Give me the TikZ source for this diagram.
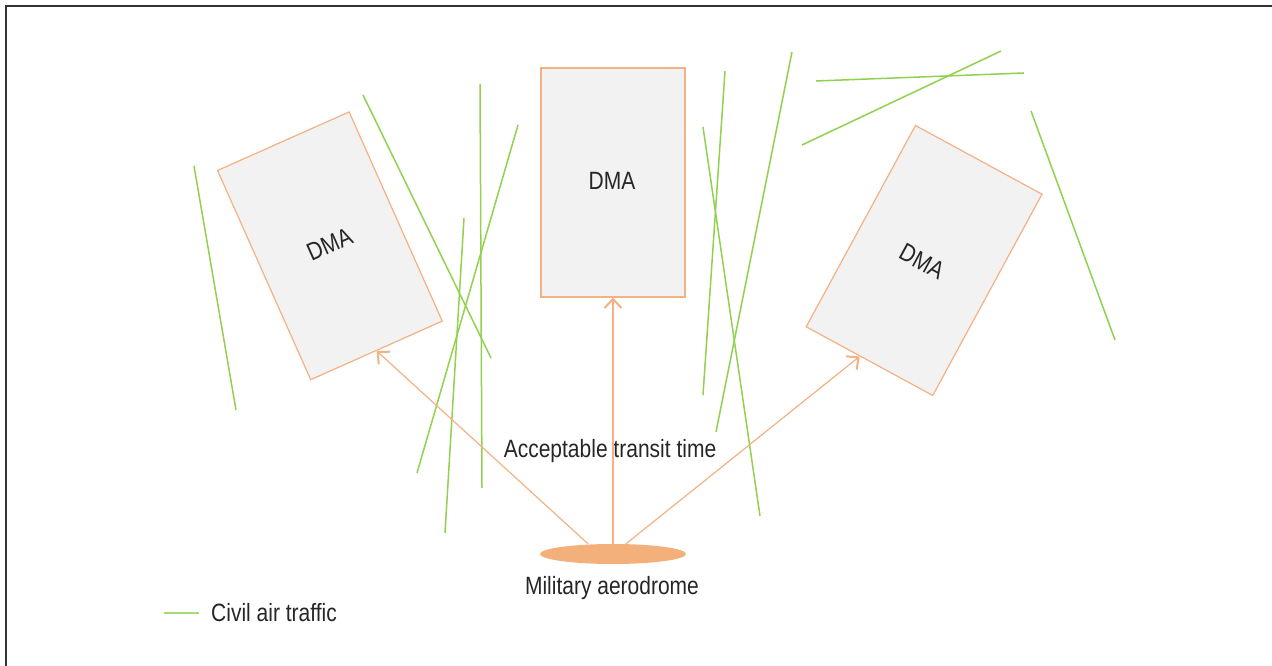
\documentclass[tikz,border=0pt]{standalone}
\usepackage{fontspec}
\setmainfont[FakeStretch=0.84]{Liberation Sans}
\usetikzlibrary{arrows.meta,shapes.geometric,calc}
\definecolor{orng}{HTML}{F4B183}
\definecolor{aerofill}{HTML}{F4B07A}
\definecolor{grn}{HTML}{92D050}
\definecolor{boxfill}{HTML}{F2F2F2}
\definecolor{txt}{HTML}{262626}
\definecolor{frame}{HTML}{333333}
\tikzset{
  x=1pt, y=1pt,
  every node/.style={text=txt, font=\fontsize{25}{30}\selectfont},
  dmabox/.style={draw=orng, line width=1.2pt, fill=boxfill, rectangle, minimum width=144pt, minimum height=229pt, inner sep=0pt},
  traffic/.style={draw=grn, line width=1.5pt},
  transit/.style={draw=orng, line width=1.2pt, -{Straight Barb[length=9pt,width=17pt,line width=2pt]}},
  lbl/.style={inner sep=0pt, anchor=base}
}
\begin{document}
\begin{tikzpicture}
\useasboundingbox (0,0) rectangle (1272,666);
% frame
\draw[frame, line width=1.5pt] (6,-2) -- (6,660) -- (1275,660);

% civil air traffic lines
\draw[traffic] (194,500) -- (236,256);
\draw[traffic] (363,571) -- (491,308);
\draw[traffic] (480,582) -- (482,178);
\draw[traffic] (518,541) -- (417,193);
\draw[traffic] (464,448) -- (445,133);
\draw[traffic] (725,595) -- (703,271);
\draw[traffic] (703,539) -- (760,150);
\draw[traffic] (792,614) -- (716,234);
\draw[traffic] (816,585) -- (1024,593);
\draw[traffic] (802,521) -- (1001,615);
\draw[traffic] (1031,555) -- (1115,326);

% DMAs
\node[dmabox, rotate=24] (dmaL) at (329.9,420.2) {};
\node[rotate=24, inner sep=0pt] (dmaLlbl) at (329.5,422) {DMA};
\node[dmabox] (dmaM) at (613,483.5) {};
\node[lbl] (dmaMlbl) at (612,476.7) {DMA};
\node[dmabox, rotate=-28.5] (dmaR) at (924.1,405.5) {};
\node[rotate=-28.5, inner sep=0pt] (dmaRlbl) at (922,404.5) {DMA};

% aerodrome
\node[ellipse, fill=aerofill, minimum width=146pt, minimum height=20pt, inner sep=0pt] (aero) at (613,112) {};
\node[lbl] (aerolbl) at (612,71) {Military aerodrome};
\node[lbl] (transitlbl) at (610,208.5) {Acceptable transit time};

% transit arrows
\coordinate (sL) at ($(aero.north)+(-25,0)$);
\coordinate (sR) at ($(aero.north)+(13,0)$);
\draw[transit] (sL) -- (dmaL.south);
\draw[transit] (aero.north) -- (dmaM.south);
\draw[transit] (sR) -- ($(dmaR.south)!0.15!(dmaR.south west)$);

% legend
\coordinate (legA) at (164,53);
\coordinate (legB) at (199,53);
\draw[traffic, line width=1.2pt, grn!80] (legA) -- (legB);
\node[lbl, anchor=base west] (legtxt) at (211,44.3) {Civil air traffic};
\end{tikzpicture}
\end{document}
